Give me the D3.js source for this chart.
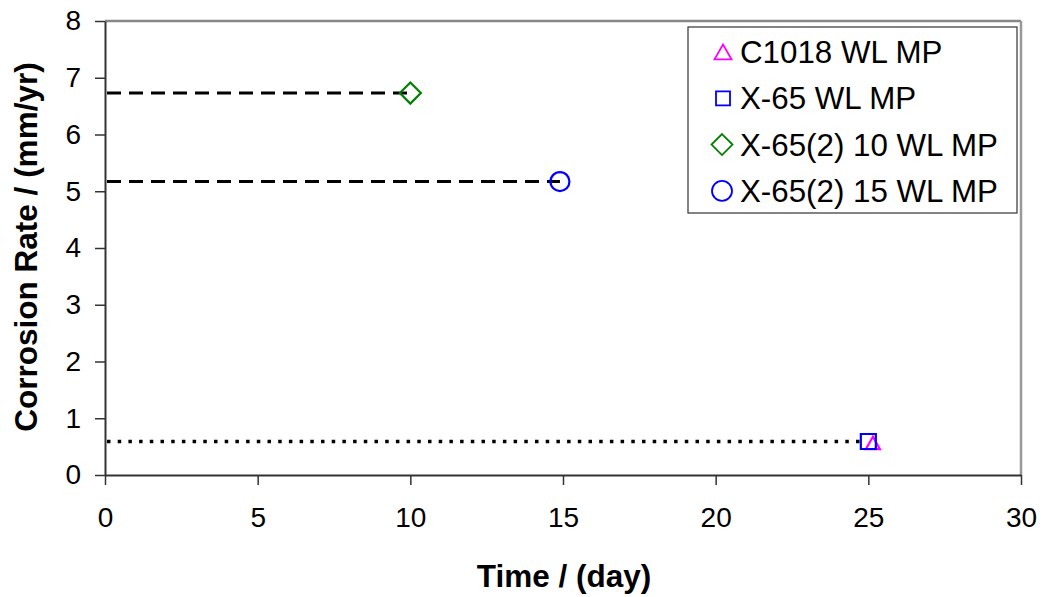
<!DOCTYPE html>
<html>
<head>
<meta charset="utf-8">
<script src="https://cdn.jsdelivr.net/npm/d3@7"></script>
<style>
  body { margin: 0; background: #fff; }
  text { font-family: "Liberation Sans", Arial, sans-serif; }
</style>
</head>
<body>
<div id="chart"></div>
<script>
// data
var seriesNames = ["C1018 WL MP", "X-65 WL MP", "X-65(2) 10 WL MP", "X-65(2) 15 WL MP"];
var seriesColors = ["#ff00ff", "#0000ff", "#008000", "#0000ff"];
var seriesSymbols = ["triangle", "square", "diamond", "circle"];
var pointX = [25.15, 25.0, 10.0, 14.9];
var pointY = [0.55, 0.59, 6.73, 5.17];

// horizontal guide lines (from x=0 to the point)
var guideY = [6.73, 5.17, 0.59];
var guideEnd = [10.0, 14.9, 25.0];
var guideDash = ["14,8", "14,8", "3.5,7.2"];

var xTicks = [0, 5, 10, 15, 20, 25, 30];
var yTicks = [0, 1, 2, 3, 4, 5, 6, 7, 8];

var W = 1043, H = 597;
var margin = {left: 105, top: 21, right: 22, bottom: 122};
var width = W - margin.left - margin.right;
var height = H - margin.top - margin.bottom;

var svg = d3.select("#chart").append("svg")
    .attr("width", W)
    .attr("height", H);

var g = svg.append("g")
    .attr("transform", "translate(" + margin.left + "," + margin.top + ")");

var x = d3.scaleLinear().domain([0, 30]).range([0, width]);
var y = d3.scaleLinear().domain([0, 8]).range([height, 0]);

// plot frame (grey top/right)
g.append("line").attr("x1", 0).attr("x2", width).attr("y1", 0).attr("y2", 0)
    .attr("stroke", "#888").attr("stroke-width", 2.5);
g.append("line").attr("x1", width).attr("x2", width).attr("y1", 0).attr("y2", height)
    .attr("stroke", "#999").attr("stroke-width", 2.5);

// axes
var xAxis = g.append("g")
    .attr("transform", "translate(0," + height + ")")
    .call(d3.axisBottom(x).tickValues(xTicks).tickSize(10).tickSizeOuter(0).tickPadding(22));
var yAxis = g.append("g")
    .call(d3.axisLeft(y).tickValues(yTicks).tickSize(10).tickSizeOuter(0).tickPadding(14));

[xAxis, yAxis].forEach(function (a) {
    a.select(".domain").attr("stroke", "#333").attr("stroke-width", 2);
    a.selectAll(".tick line").attr("stroke", "#333").attr("stroke-width", 1.5);
    a.selectAll(".tick text").attr("font-size", 28).attr("fill", "#000")
        .style("font-family", "'Liberation Sans', Arial, sans-serif");
});

// guide lines
guideY.forEach(function (v, i) {
    g.append("line")
        .attr("x1", x(0) + 2).attr("x2", x(guideEnd[i]) - (i == 2 ? 8 : 0))
        .attr("y1", y(v)).attr("y2", y(v))
        .attr("stroke", "#000")
        .attr("stroke-width", i == 2 ? 3.5 : 3)
        .attr("stroke-dasharray", guideDash[i]);
});

// marker shapes, r = half size in px
function symbolPath(kind, r) {
    if (kind == "circle") {
        return "M" + r + ",0A" + r + "," + r + " 0 1,1 " + (-r) + ",0A" + r + "," + r + " 0 1,1 " + r + ",0Z";
    }
    if (kind == "square") {
        return "M" + (-r) + "," + (-r) + "H" + r + "V" + r + "H" + (-r) + "Z";
    }
    if (kind == "diamond") {
        return "M0," + (-r) + "L" + r + ",0L0," + r + "L" + (-r) + ",0Z";
    }
    // triangle
    return "M0," + (-r) + "L" + r + "," + (r * 0.75) + "L" + (-r) + "," + (r * 0.75) + "Z";
}
var symR = {triangle: 7, square: 7.5, diamond: 10.5, circle: 9.5};

// points
seriesNames.forEach(function (name, i) {
    g.append("path")
        .attr("d", symbolPath(seriesSymbols[i], symR[seriesSymbols[i]]))
        .attr("transform", "translate(" + x(pointX[i]) + "," + y(pointY[i]) + ")")
        .attr("fill", i == 0 ? "#fff" : "none")
        .attr("stroke", seriesColors[i])
        .attr("stroke-width", 2.2);
});

// axis titles
svg.append("text")
    .attr("x", margin.left + width / 2 + 1).attr("y", 587)
    .attr("text-anchor", "middle")
    .attr("font-size", 31.5).attr("font-weight", "bold")
    .text("Time / (day)");
svg.append("text")
    .attr("transform", "translate(37," + 247 + ") rotate(-90)")
    .attr("text-anchor", "middle")
    .attr("font-size", 31.5).attr("font-weight", "bold")
    .text("Corrosion Rate / (mm/yr)");

// legend
var legend = svg.append("g").attr("transform", "translate(688,27)");
legend.append("rect")
    .attr("width", 329).attr("height", 186)
    .attr("fill", "#fff").attr("stroke", "#333").attr("stroke-width", 1.2);
var legR = {triangle: 8.5, square: 7, diamond: 10.5, circle: 10};
seriesNames.forEach(function (name, i) {
    var row = legend.append("g").attr("transform", "translate(0," + (25 + i * 46.3) + ")");
    row.append("path")
        .attr("d", symbolPath(seriesSymbols[i], legR[seriesSymbols[i]]))
        .attr("transform", "translate(" + (i < 2 ? 35 : 34) + "," + (i == 0 ? 1 : 0) + ")")
        .attr("fill", "#fff")
        .attr("stroke", seriesColors[i])
        .attr("stroke-width", 1.8);
    row.append("text")
        .attr("x", 52).attr("y", 11)
        .attr("font-size", 31.3).attr("fill", "#000")
        .text(name);
});
</script>
</body>
</html>
